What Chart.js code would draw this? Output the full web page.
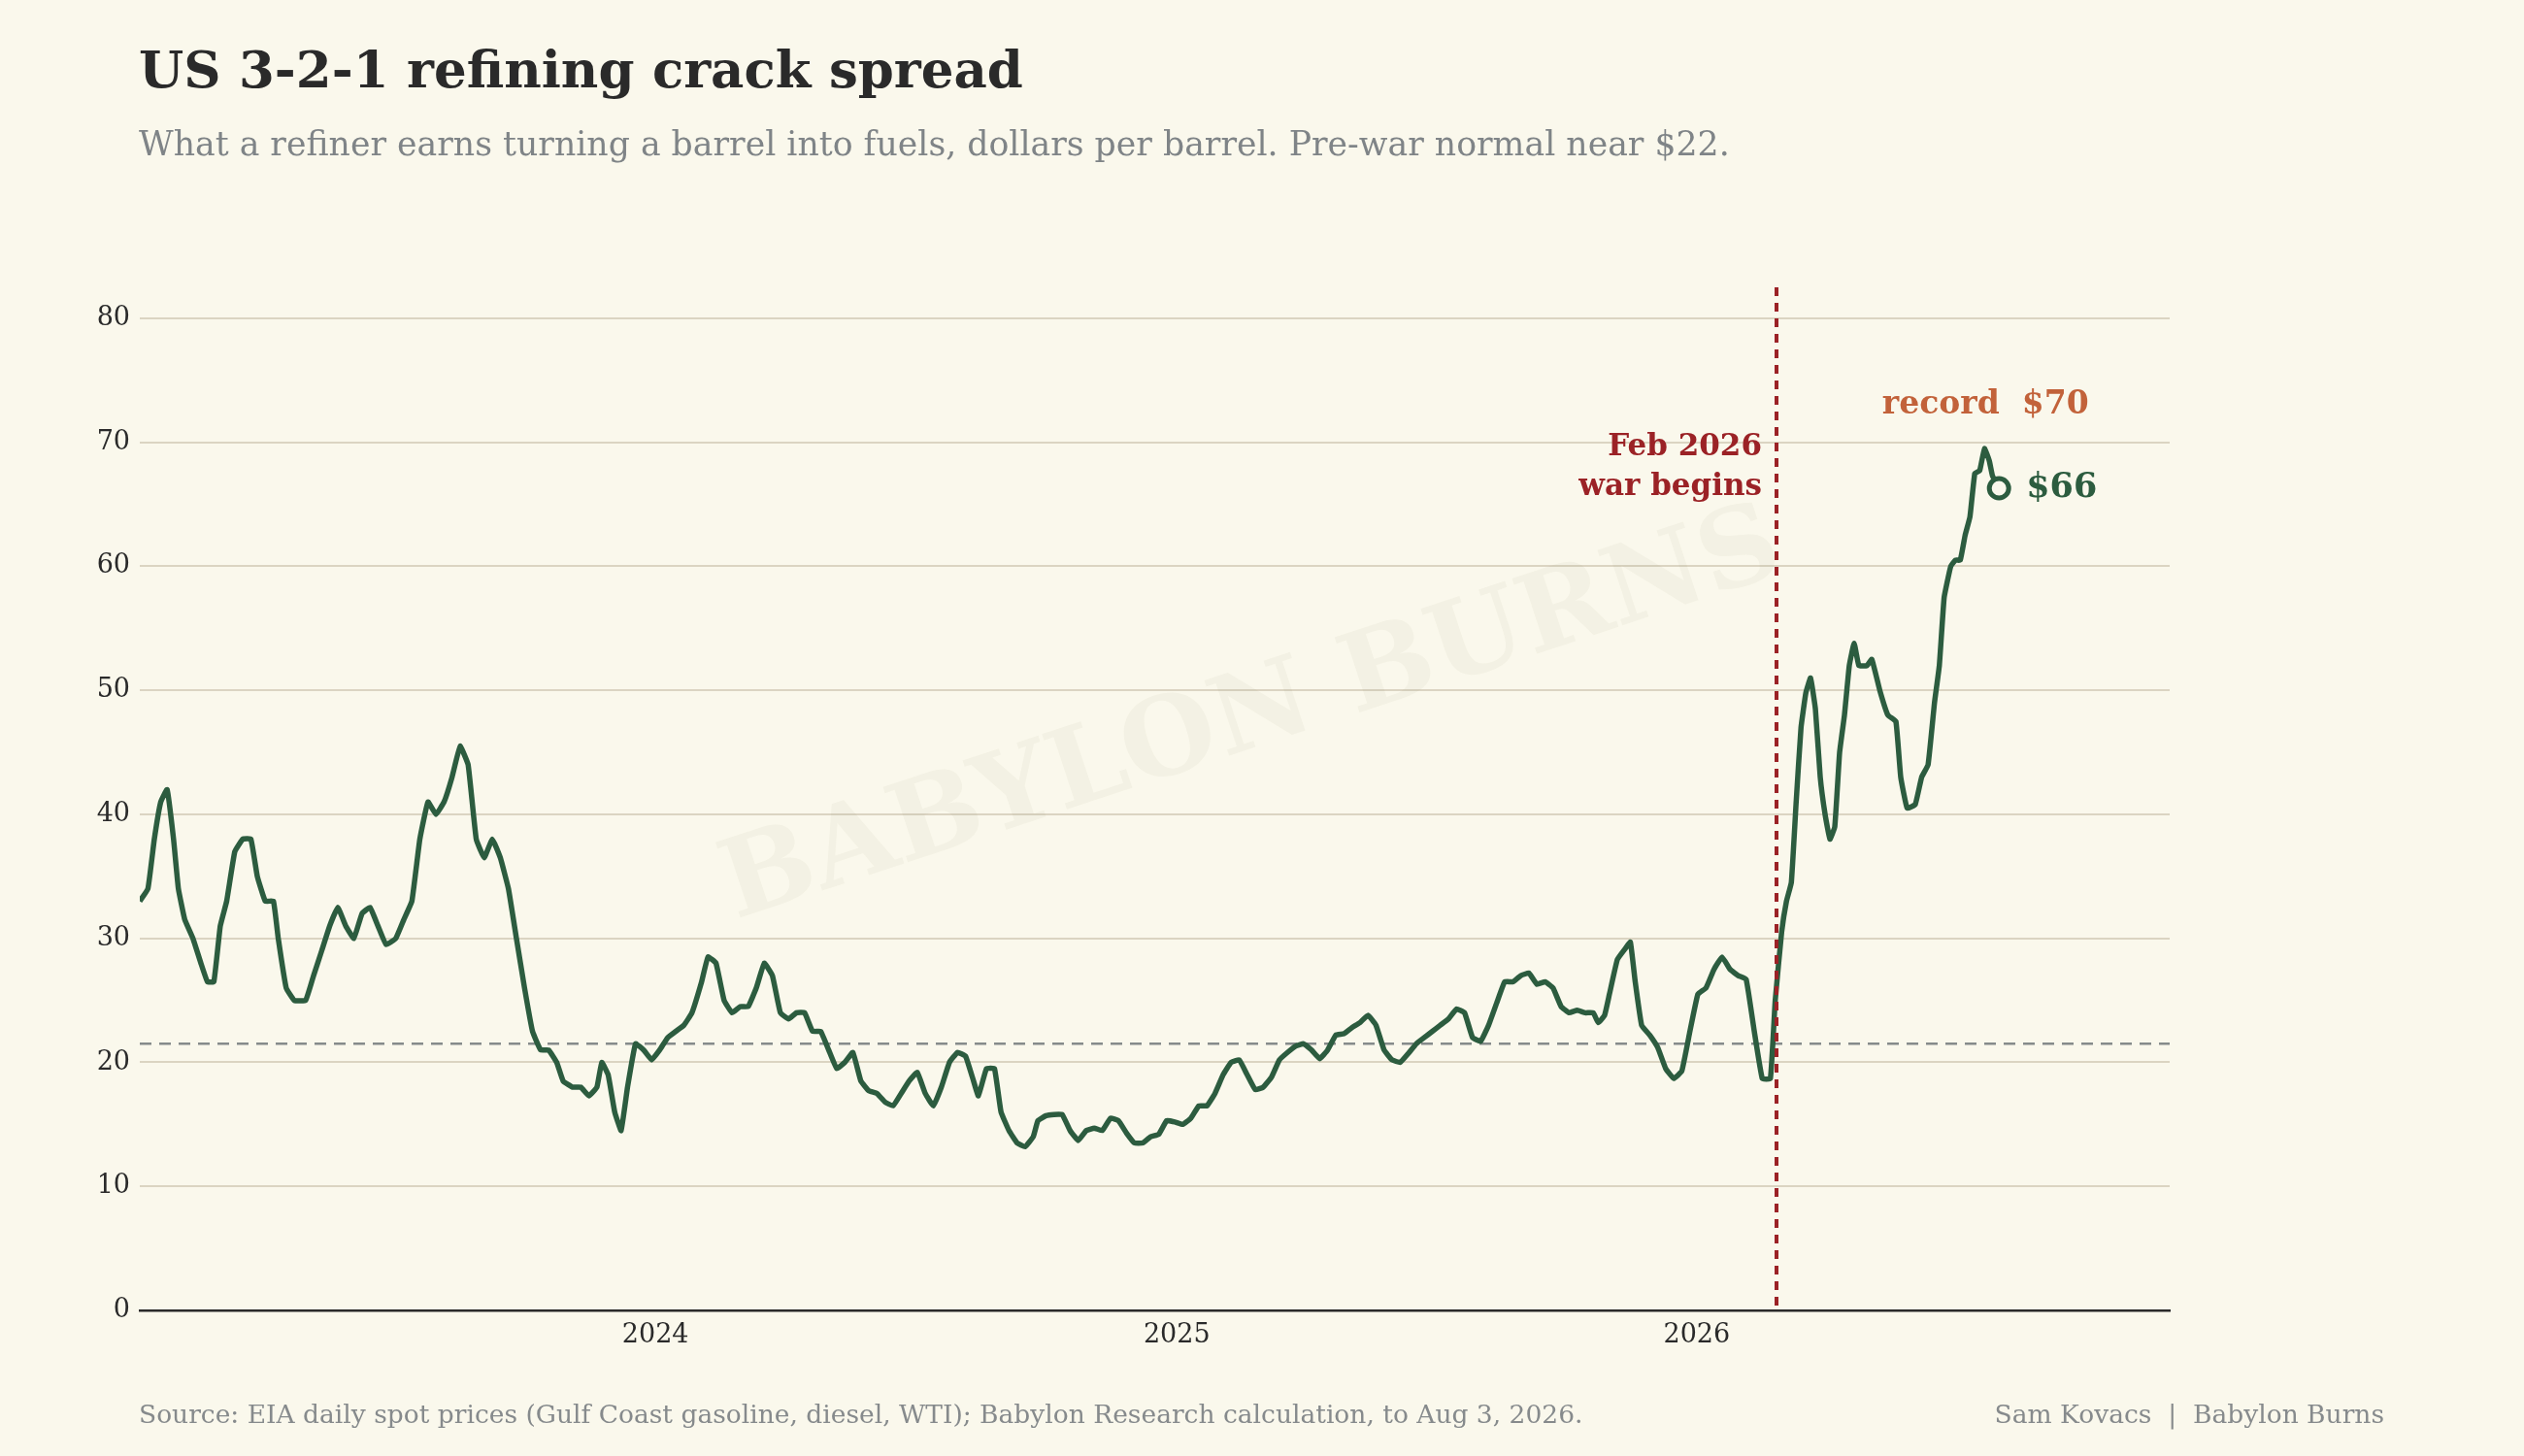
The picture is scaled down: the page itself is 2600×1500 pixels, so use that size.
<!DOCTYPE html>
<html>
<head>
<meta charset="utf-8">
<script src="https://cdn.jsdelivr.net/npm/chart.js@4"></script>
<style>
  body{margin:0;background:#faf8ec;font-family:"DejaVu Serif",serif;}
  #wrap{position:relative;width:2600px;height:1500px;}
  canvas{position:absolute;left:0;top:0;}
  .t{position:absolute;white-space:nowrap;}
  #title{left:143px;top:40px;font-size:53px;font-weight:bold;color:#2a2a2a;}
  #sub{left:143px;top:128px;font-size:34.7px;color:#7f8487;}
  #src{left:143px;top:1441px;font-size:26.5px;color:#868a8c;}
  #by{right:144px;top:1441px;font-size:26.5px;color:#868a8c;}
</style>
</head>
<body>
<div id="wrap">
  <canvas id="c" width="2600" height="1500"></canvas>
  <div class="t" id="title">US 3-2-1 refining crack spread</div>
  <div class="t" id="sub">What a refiner earns turning a barrel into fuels, dollars per barrel. Pre-war normal near $22.</div>
  <div class="t" id="src">Source: EIA daily spot prices (Gulf Coast gasoline, diesel, WTI); Babylon Research calculation, to Aug 3, 2026.</div>
  <div class="t" id="by">Sam Kovacs &nbsp;|&nbsp; Babylon Burns</div>
</div>
<script>
// days since Jan 1, 2023
const days=[3,8.7,13.2,17.7,22.2,26.7,30.1,34.6,40.3,45.9,50.5,55,59.5,64,69.7,75.3,81,85.5,91.1,96.8,100.2,105.8,111.5,119.4,125,130.7,136.3,142,147.6,153.3,159,164.6,170.2,175.9,182.7,188.3,194,199.6,205.3,210.9,216.6,222.2,227.9,233.5,239.2,244.8,250.5,256.1,261.8,267.4,273.1,278.7,284.4,290,295.7,300.2,307,312.6,318.3,323.9,327.3,331.8,336.4,340.9,345.4,351,356.7,362.3,368,373.6,379.3,385,390.6,397.4,401.9,407.5,413.2,418.8,424.5,430.1,435.8,441.4,447.1,452.7,458.4,464,469.7,475.3,481,486.6,492.3,497.9,503.6,509.2,514.9,520.5,526.2,531.8,537.5,543.1,548.8,554.4,560.1,565.7,571.4,577,582.7,588.3,591.7,597.4,603,607.6,613.2,618.9,624.5,630.2,633.5,639.2,644.8,650.5,656.1,661.8,667.4,673.1,678.7,684.4,690,695.7,701.3,707,712.6,718.3,723.9,729.6,735.2,740.9,746.5,752.2,757.8,763.5,769.1,774.8,780.4,786.1,791.7,797.4,803,808.7,814.3,820,825.6,831.3,836.9,842.6,848.2,853.9,859.5,865.2,870.8,876.5,882.1,887.8,893.4,899.1,904.7,910.4,916,921.7,927.3,933,938.6,944.3,949.9,955.6,961.2,966.9,972.5,978.2,983.8,989.5,995.1,1000.8,1006.4,1012.1,1017.7,1023.4,1026.8,1031.3,1034.7,1040.3,1046,1049.4,1052.8,1057.3,1063,1068.6,1074.2,1079.9,1085.5,1091.2,1096.8,1102.5,1108.1,1113.8,1119.4,1125.1,1130.7,1136.4,1142,1147.7,1151.1,1155.6,1159,1162.4,1165.8,1169.2,1172.6,1175.9,1179.3,1182.7,1186.1,1189.5,1192.9,1196.3,1199.7,1203.1,1206.5,1209.8,1215.5,1218.9,1224.5,1230.2,1235.8,1239.2,1243.7,1249.4,1253.9,1258.4,1262.9,1266.3,1269.7,1274.3,1277.6,1281,1284.4,1287.8,1291.2,1294.6,1298,1301.4,1303.6,1308.2];
const spread=[33,34,38,41,42,38,34,31.5,30,28,26.5,26.5,31,33,37,38,38,35,33,33,30,26,25,25,27,29,31,32.5,31,30,32,32.5,31,29.5,30,31.5,33,38,41,40,41,43,45.5,44,38,36.5,38,36.5,34,30,26,22.5,21,21,20,18.5,18,18,17.3,18,20,19,16,14.5,18,21.5,21,20.2,21,22,22.5,23,24,26.5,28.5,28,25,24,24.5,24.5,26,28,27,24,23.5,24,24,22.5,22.5,21,19.5,20,20.8,18.5,17.7,17.5,16.8,16.5,17.5,18.5,19.2,17.5,16.5,18,20,20.8,20.5,18.5,17.3,19.5,19.5,16,14.5,13.5,13.2,14,15.3,15.7,15.8,15.8,14.5,13.7,14.5,14.7,14.5,15.5,15.3,14.3,13.5,13.5,14,14.2,15.3,15.2,15,15.5,16.5,16.5,17.5,19,20,20.2,19,17.8,18,18.8,20.2,20.8,21.3,21.5,21,20.3,21,22.2,22.3,22.8,23.2,23.8,23,21,20.2,20,20.7,21.5,22,22.5,23,23.5,24.3,24,22,21.7,23,24.8,26.5,26.5,27,27.2,26.3,26.5,26,24.5,24,24.2,24,24,23.2,23.8,25.5,28.3,29.2,29.7,26.5,23,22.2,21.2,19.5,18.7,19.3,22.5,25.5,26,27.5,28.5,27.5,27,26.7,22.5,18.7,18.7,25,30.5,33,34.5,41,47,49.8,51,48.5,43,40,38,39,45,48,52,53.8,52,52,52.5,50,48,47.5,43,40.5,40.8,43,44,49,52,57.5,60,60.5,60.5,62.5,64,67.5,67.7,69.5,68.5,67.3,66.3];
const yearTicks=[365,731,1096];
const yearLabels=['2024','2025','2026'];
const prewarNormal=21.5;
const warDay=1152;

const bg='#faf8ec', green='#2c5c3f', red='#9b2226', orange='#c2623a';

const extras={
  id:'extras',
  beforeDatasetsDraw(chart){
    const {ctx,chartArea:a,scales:{x,y}}=chart;
    ctx.save();
    // watermark
    ctx.translate(1290,740);ctx.rotate(-0.32);
    ctx.font='bold 112px "DejaVu Serif"';ctx.fillStyle='rgba(120,110,80,0.05)';
    ctx.textAlign='center';ctx.textBaseline='middle';
    ctx.fillText('BABYLON BURNS',0,0);
    ctx.restore();
    ctx.save();
    ctx.setLineDash([12,8]);ctx.strokeStyle='#868b8b';ctx.lineWidth=2.5;
    const yy=y.getPixelForValue(prewarNormal);
    ctx.beginPath();ctx.moveTo(a.left,yy);ctx.lineTo(a.right,yy);ctx.stroke();
    ctx.restore();
  },
  afterDatasetsDraw(chart){
    const {ctx,chartArea:a,scales:{x,y}}=chart;
    ctx.save();
    const wx=x.getPixelForValue(warDay);
    ctx.setLineDash([9,7]);ctx.strokeStyle=red;ctx.lineWidth=4;
    ctx.beginPath();ctx.moveTo(wx,a.top);ctx.lineTo(wx,a.bottom);ctx.stroke();
    ctx.setLineDash([]);
    ctx.font='bold 31px "DejaVu Serif"';ctx.fillStyle=red;ctx.textAlign='right';ctx.textBaseline='middle';
    ctx.fillText('Feb 2026',wx-15,y.getPixelForValue(69.6));
    ctx.fillText('war begins',wx-15,y.getPixelForValue(66.4));
    const n=days.length-1;
    const ex=x.getPixelForValue(days[n]), ey=y.getPixelForValue(spread[n]);
    ctx.beginPath();ctx.arc(ex,ey,10,0,Math.PI*2);ctx.fillStyle=bg;ctx.fill();
    ctx.lineWidth=5;ctx.strokeStyle=green;ctx.stroke();
    ctx.font='bold 35px "DejaVu Serif"';ctx.fillStyle=green;ctx.textAlign='left';
    ctx.fillText('$66',ex+28,ey);
    ctx.font='bold 33px "DejaVu Serif"';ctx.fillStyle=orange;ctx.textAlign='center';
    ctx.fillText('record  $70',x.getPixelForValue(1298)+1,y.getPixelForValue(73));
    ctx.restore();
  }
};

new Chart(document.getElementById('c'),{
  type:'line',
  data:{datasets:[{data:days.map((d,i)=>({x:d,y:spread[i]})),borderColor:green,borderWidth:5.5,pointRadius:0,tension:0.1,fill:false,borderJoinStyle:'round'}]},
  options:{
    responsive:false,animation:false,
    layout:{padding:{left:0,right:365,top:296,bottom:0}},
    plugins:{legend:{display:false},tooltip:{enabled:false}},
    scales:{
      x:{type:'linear',min:3,max:1428,
        afterBuildTicks(s){s.ticks=yearTicks.map(v=>({value:v}));},
        afterFit(s){s.height=150;},
        ticks:{callback:(v)=>yearLabels[yearTicks.indexOf(v)],font:{family:'DejaVu Serif',size:27},color:'#2a2a2a',padding:10,maxRotation:0},
        grid:{display:false,drawTicks:false},
        border:{display:true,color:'#2a2a2a',width:2.5}},
      y:{min:0,max:82.5,
        afterBuildTicks(s){s.ticks=[0,10,20,30,40,50,60,70,80].map(v=>({value:v}));},
        afterFit(s){s.width=144;},
        ticks:{font:{family:'DejaVu Serif',size:27},color:'#2a2a2a',padding:10},
        grid:{color:'#dbd4c2',lineWidth:2,drawTicks:false},
        border:{display:false}}
    }
  },
  plugins:[extras]
});
</script>
</body>
</html>
